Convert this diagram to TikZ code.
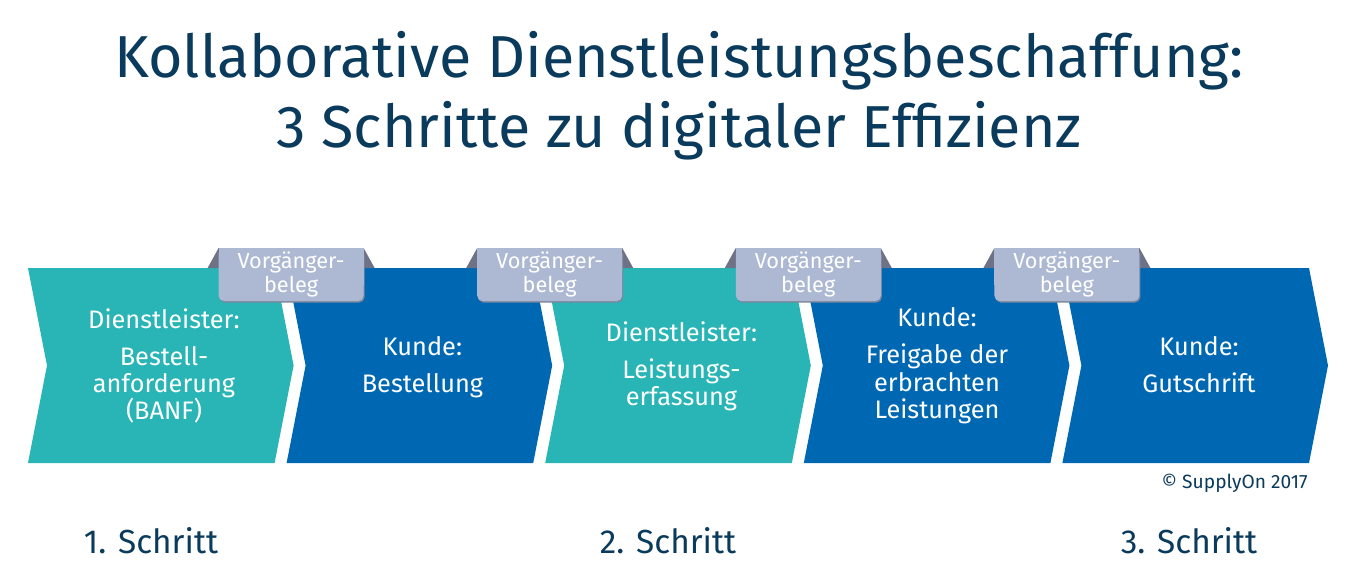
\documentclass[tikz,border=0pt]{standalone}
\usepackage{fontspec}
\setmainfont{Fira Sans}
\definecolor{chteal}{HTML}{29B4B5}
\definecolor{chblue}{HTML}{0068B3}
\definecolor{tabfill}{HTML}{ADB8D2}
\definecolor{tabback}{HTML}{6E7287}
\definecolor{tabshadow}{HTML}{7E879E}
\definecolor{titleblue}{HTML}{0B3B5C}
\newcommand\mytop[1]{\rule{0pt}{#1}}
\newcommand\mybot[1]{\rule[-#1]{0pt}{#1}}
\begin{document}
\begin{tikzpicture}[x=0.75pt,y=-0.75pt,
  titletext/.style={text=titleblue,align=center,inner sep=0pt,font=\fontsize{44.4}{52.5}\selectfont},
  chtext/.style={text=white,align=center,inner sep=0pt,font=\fontsize{19}{20.5}\selectfont},
  tabtext/.style={text=white,align=center,inner sep=0pt,font=\fontsize{16.3}{18}\selectfont},
  steptext/.style={text=titleblue,anchor=base,inner sep=0pt,font=\fontsize{25}{30}\selectfont},
  copytext/.style={text=titleblue,anchor=base east,inner sep=0pt,font=\fontsize{14.4}{16}\selectfont}]
\useasboundingbox (0,0) rectangle (1358,587);
\fill[white] (0,0) rectangle (1358,587);

% title
\node[titletext] (title) at (679,112) {\mytop{40pt}Kollaborative Dienstleistungsbeschaffung:\\3 Schritte zu digitaler Effizienz\mybot{40pt}};

% chevrons
\fill[chteal] (28,268) -- (274.6,268) -- (293.6,365.5) -- (274.6,463) -- (28,463) -- (47,365.5) -- cycle;
\fill[chblue] (286.6,268) -- (533.2,268) -- (552.2,365.5) -- (533.2,463) -- (286.6,463) -- (305.6,365.5) -- cycle;
\fill[chteal] (545.2,268) -- (791.8,268) -- (810.8,365.5) -- (791.8,463) -- (545.2,463) -- (564.2,365.5) -- cycle;
\fill[chblue] (803.8,268) -- (1050.4,268) -- (1069.4,365.5) -- (1050.4,463) -- (803.8,463) -- (822.8,365.5) -- cycle;
\fill[chblue] (1062.4,268) -- (1309,268) -- (1328,365.5) -- (1309,463) -- (1062.4,463) -- (1081.4,365.5) -- cycle;

% tabs
\foreach \r/\n in {274.6/1,533.2/2,791.8/3,1050.4/4}{
  \fill[tabback] (\r-67,268) -- (\r-56,248) -- (\r+89,248) -- (\r+100,268) -- cycle;
  \fill[tabshadow,rounded corners=4] (\r-55,250) rectangle (\r+90,302.5);
  \fill[tabfill,rounded corners=4] (\r-56,248) rectangle (\r+89,301);
  \fill[tabfill] (\r-56,248) rectangle (\r+89,285);
  \node[tabtext] (tab\n) at (\r+16.5,280) {\mytop{14pt}Vorgänger-\\beleg\mybot{14pt}};
}

% chevron texts
\node[chtext] (c1) at (164,374) {\mytop{16pt}Dienstleister:\\[7.25pt]Bestell-\\anforderung\\(BANF)\mybot{16pt}};
\node[chtext] (c2) at (422.4,373.5) {\mytop{16pt}Kunde:\\[7.25pt]Bestellung\mybot{16pt}};
\node[chtext] (c3) at (681.5,373.5) {\mytop{16pt}Dienstleister:\\[7.25pt]Leistungs-\\erfassung\mybot{16pt}};
\node[chtext] (c4) at (937,372.5) {\mytop{16pt}Kunde:\\[7.25pt]Freigabe der\\erbrachten\\Leistungen\mybot{16pt}};
\node[chtext] (c5) at (1199,373.5) {\mytop{16pt}Kunde:\\[7.25pt]Gutschrift\mybot{16pt}};

% copyright
\node[copytext] (copy) at (1308,488) {© SupplyOn 2017};

% steps
\node[steptext] (s1) at (151,553) {1. Schritt};
\node[steptext] (s2) at (668,553) {2. Schritt};
\node[steptext] (s3) at (1189,553) {3. Schritt};
\end{tikzpicture}
\end{document}
